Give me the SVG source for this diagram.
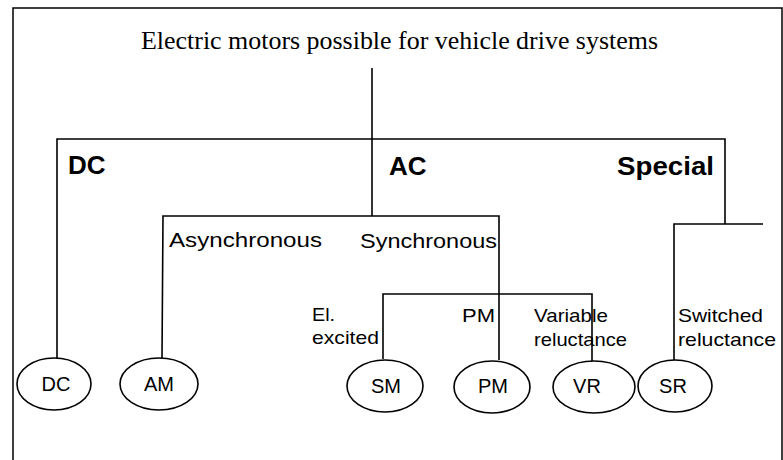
<svg xmlns="http://www.w3.org/2000/svg" width="783" height="460" viewBox="0 0 783 460">
  <style>
    .frame { fill: none; stroke: #000; stroke-width: 1.5; }
    .wire { fill: none; stroke: #000; stroke-width: 1.6; }
    .oval { fill: #fff; stroke: #000; stroke-width: 1.6; }
    .title { font-family: "Liberation Serif", "Times New Roman", serif; font-size: 26px; fill: #000; }
    .cat { font-family: "Liberation Sans", Arial, sans-serif; font-size: 26px; font-weight: bold; fill: #000; }
    .sub { font-family: "Liberation Sans", Arial, sans-serif; font-size: 21px; fill: #000; }
    .small { font-family: "Liberation Sans", Arial, sans-serif; font-size: 19px; fill: #000; }
    .node { font-family: "Liberation Sans", Arial, sans-serif; font-size: 20px; fill: #000; text-anchor: middle; }
  </style>
  <rect x="0" y="0" width="783" height="460" fill="#fff"/>
  <path class="frame" d="M13,460 V8 H782 V460"/>

  <g id="connectors">
    <path class="wire" d="M372,68 V139"/>
    <path class="wire" d="M57,358 V139 H725 V224"/>
    <path class="wire" d="M372,139 V216"/>
    <path class="wire" d="M162,358 L163,216 H499 V360"/>
    <path class="wire" d="M383,359 V294 H592 V361"/>
    <path class="wire" d="M763,224 H674 V360"/>
  </g>

  <g id="title">
    <text class="title" x="141" y="49" textLength="517" lengthAdjust="spacingAndGlyphs">Electric motors possible for vehicle drive systems</text>
  </g>

  <g id="cat-dc"><text class="cat" x="68" y="174">DC</text></g>
  <g id="cat-ac"><text class="cat" x="389" y="175">AC</text></g>
  <g id="cat-special"><text class="cat" x="617" y="175" textLength="97" lengthAdjust="spacingAndGlyphs">Special</text></g>

  <g id="lbl-async"><text class="sub" x="169" y="247" textLength="153" lengthAdjust="spacingAndGlyphs">Asynchronous</text></g>
  <g id="lbl-sync"><text class="sub" x="360" y="248" textLength="137" lengthAdjust="spacingAndGlyphs">Synchronous</text></g>

  <g id="lbl-el">
    <text class="small" x="312" y="321" textLength="23" lengthAdjust="spacingAndGlyphs">El.</text>
    <text class="small" x="312" y="344" textLength="67" lengthAdjust="spacingAndGlyphs">excited</text>
  </g>
  <g id="lbl-pm"><text class="small" x="462" y="322" textLength="33" lengthAdjust="spacingAndGlyphs">PM</text></g>
  <g id="lbl-vr">
    <text class="small" x="534" y="322" textLength="74" lengthAdjust="spacingAndGlyphs">Variable</text>
    <text class="small" x="534" y="346" textLength="93" lengthAdjust="spacingAndGlyphs">reluctance</text>
  </g>
  <g id="lbl-sr">
    <text class="small" x="678" y="322" textLength="85" lengthAdjust="spacingAndGlyphs">Switched</text>
    <text class="small" x="678" y="346" textLength="98" lengthAdjust="spacingAndGlyphs">reluctance</text>
  </g>

  <g id="node-dc">
    <ellipse class="oval" cx="54" cy="384" rx="37" ry="26"/>
    <text class="node" x="56" y="391">DC</text>
  </g>
  <g id="node-am">
    <ellipse class="oval" cx="159" cy="384" rx="39" ry="26"/>
    <text class="node" x="159" y="391">AM</text>
  </g>
  <g id="node-sm">
    <ellipse class="oval" cx="385" cy="386" rx="38" ry="26"/>
    <text class="node" x="386" y="393">SM</text>
  </g>
  <g id="node-pm">
    <ellipse class="oval" cx="492" cy="387" rx="38" ry="26"/>
    <text class="node" x="493" y="393">PM</text>
  </g>
  <g id="node-vr">
    <ellipse class="oval" cx="594" cy="387" rx="41" ry="26"/>
    <text class="node" x="587" y="393">VR</text>
  </g>
  <g id="node-sr">
    <ellipse class="oval" cx="675" cy="386" rx="37" ry="26"/>
    <text class="node" x="673" y="393">SR</text>
  </g>
</svg>
